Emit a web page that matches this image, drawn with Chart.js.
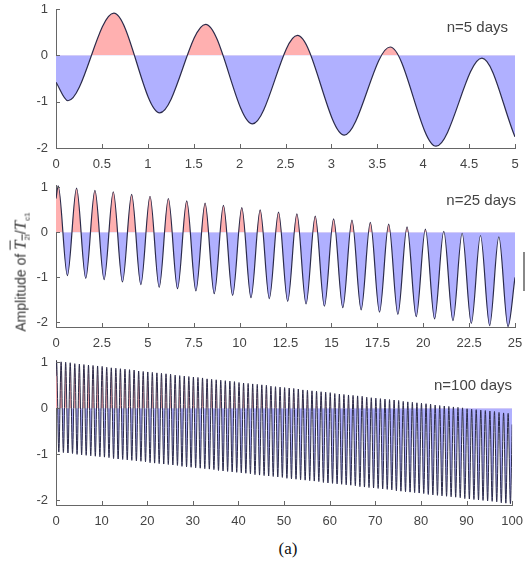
<!DOCTYPE html>
<html>
<head>
<meta charset="utf-8">
<script src="https://cdn.jsdelivr.net/npm/chart.js@4"></script>
<style>
  body { margin: 0; background: #fff; }
  #wrap { position: relative; width: 532px; height: 563px; font-family: "Liberation Sans", Arial, sans-serif; }
  canvas { position: absolute; left: 0; }
  .note { position: absolute; font-size: 15px; color: #444; white-space: nowrap; }
  #ylabel { position: absolute; left: 21px; top: 272px; transform: translate(-50%, -50%) rotate(-90deg);
            font-size: 14px; color: #333; white-space: nowrap; }
  #ylabel i { font-family: "Liberation Serif", serif; font-size: 17px; }
  #ylabel sub { font-size: 8px; }
  #caption { position: absolute; left: 288px; top: 549px; transform: translate(-50%, -50%);
             font-family: "Liberation Serif", serif; font-size: 17px; color: #111; }
  #stray { position: absolute; left: 523px; top: 252px; width: 2px; height: 39px; background: #888; }
</style>
</head>
<body>
<div id="wrap">
  <canvas id="c5" width="532" height="175" style="top:0"></canvas>
  <canvas id="c25" width="532" height="184" style="top:170px"></canvas>
  <canvas id="c100" width="532" height="187" style="top:345px"></canvas>
  <div class="note" style="right:24px;top:18px">n=5 days</div>
  <div class="note" style="right:16px;top:191px">n=25 days</div>
  <div class="note" style="right:20px;top:376px">n=100 days</div>
  <div id="ylabel">Amplitude of <span style="text-decoration:overline"><i>T</i><sub>2i</sub></span>/<i>T</i><sub>c1</sub></div>
  <div id="caption">(a)</div>
  <div id="stray"></div>
</div>
<script>
// n=5 days: turning points of the curve (day, amplitude)
const days5 = [0, 0.13, 0.63, 1.13, 1.63, 2.14, 2.63, 3.14, 3.64, 4.14, 4.64, 5];
const amp5 = [-0.58, -0.98, 0.91, -1.24, 0.67, -1.48, 0.43, -1.72, 0.18, -1.96, -0.06, -1.76];

// n=25 days: daily peaks and troughs
const start25 = 0.75, end25 = -1.0;
const peaks25 = [1.03, 0.98, 0.93, 0.90, 0.84, 0.80, 0.75, 0.70, 0.65, 0.60, 0.55, 0.50, 0.45,
  0.41, 0.36, 0.30, 0.27, 0.22, 0.18, 0.12, 0.07, 0.02, -0.02, -0.07, -0.10];
const troughs25 = [-0.96, -1.02, -1.05, -1.10, -1.16, -1.22, -1.25, -1.30, -1.36, -1.40, -1.45, -1.47, -1.53,
  -1.59, -1.64, -1.67, -1.72, -1.77, -1.82, -1.87, -1.92, -1.96, -2.02, -2.07, -2.09];

// n=100 days: daily peaks and troughs
const start100 = 0.7, end100 = -0.35;
const peaks100 = [1.02, 1.01, 1.00, 0.99, 0.97, 0.96, 0.95, 0.94, 0.93, 0.92,
  0.91, 0.89, 0.88, 0.87, 0.86, 0.85, 0.84, 0.83, 0.81, 0.80,
  0.79, 0.78, 0.77, 0.76, 0.75, 0.74, 0.72, 0.71, 0.70, 0.69,
  0.68, 0.67, 0.66, 0.64, 0.63, 0.62, 0.61, 0.60, 0.59, 0.58,
  0.56, 0.55, 0.54, 0.53, 0.52, 0.51, 0.50, 0.48, 0.47, 0.46,
  0.45, 0.44, 0.43, 0.42, 0.40, 0.39, 0.38, 0.37, 0.36, 0.35,
  0.34, 0.32, 0.31, 0.30, 0.29, 0.28, 0.27, 0.26, 0.24, 0.23,
  0.22, 0.21, 0.20, 0.19, 0.18, 0.17, 0.15, 0.14, 0.13, 0.12,
  0.11, 0.10, 0.09, 0.07, 0.06, 0.05, 0.04, 0.03, 0.02, 0.01,
  -0.01, -0.02, -0.03, -0.04, -0.05, -0.06, -0.07, -0.09, -0.10, -0.11];
const troughs100 = [-0.95, -0.96, -0.97, -0.98, -1.00, -1.01, -1.02, -1.03, -1.04, -1.05,
  -1.06, -1.07, -1.09, -1.10, -1.11, -1.12, -1.13, -1.14, -1.15, -1.16,
  -1.18, -1.19, -1.20, -1.21, -1.22, -1.23, -1.24, -1.26, -1.27, -1.28,
  -1.29, -1.30, -1.31, -1.32, -1.33, -1.35, -1.36, -1.37, -1.38, -1.39,
  -1.40, -1.41, -1.42, -1.44, -1.45, -1.46, -1.47, -1.48, -1.49, -1.50,
  -1.52, -1.53, -1.54, -1.55, -1.56, -1.57, -1.58, -1.59, -1.61, -1.62,
  -1.63, -1.64, -1.65, -1.66, -1.67, -1.68, -1.70, -1.71, -1.72, -1.73,
  -1.74, -1.75, -1.76, -1.77, -1.79, -1.80, -1.81, -1.82, -1.83, -1.84,
  -1.85, -1.87, -1.88, -1.89, -1.90, -1.91, -1.92, -1.93, -1.94, -1.96,
  -1.97, -1.98, -1.99, -2.00, -2.01, -2.02, -2.03, -2.05, -2.06, -2.07];

// where in each day the peak and the trough fall
const peakPhase = 0.12, troughPhase = 0.62;

const xTicks5 = [0, 0.5, 1, 1.5, 2, 2.5, 3, 3.5, 4, 4.5, 5];
const xTicks25 = [0, 2.5, 5, 7.5, 10, 12.5, 15, 17.5, 20, 22.5, 25];
const xTicks100 = [0, 10, 20, 30, 40, 50, 60, 70, 80, 90, 100];
const yTicks = [-2, -1, 0, 1];

function daily(start, peaks, troughs, end, span) {
  const pts = [{ x: 0, y: start }];
  peaks.forEach((p, k) => {
    pts.push({ x: k + peakPhase, y: p });
    pts.push({ x: k + troughPhase, y: troughs[k] });
  });
  pts.push({ x: span, y: end });
  return pts;
}

const inwardTicks = {
  id: 'inwardTicks',
  afterDraw(chart) {
    const { ctx, chartArea: a, scales: { x, y } } = chart;
    ctx.save();
    ctx.strokeStyle = '#666';
    ctx.lineWidth = 1;
    ctx.beginPath();
    x.ticks.forEach(t => {
      const px = Math.round(x.getPixelForValue(t.value)) + 0.5;
      ctx.moveTo(px, a.bottom);
      ctx.lineTo(px, a.bottom - 4);
    });
    y.ticks.forEach(t => {
      const py = Math.round(y.getPixelForValue(t.value)) + 0.5;
      ctx.moveTo(a.left, py);
      ctx.lineTo(a.left + 4, py);
    });
    ctx.stroke();
    ctx.restore();
  }
};

const tickFont = { family: '"Liberation Sans", Arial, sans-serif', size: 13 };

function panel(id, points, xTicks, xMax, yMin, yMax, padTop, lineWidth) {
  new Chart(document.getElementById(id), {
    type: 'line',
    data: {
      datasets: [{
        data: points,
        borderColor: '#2b2b4a',
        borderWidth: lineWidth,
        pointRadius: 0,
        cubicInterpolationMode: 'monotone',
        fill: { target: { value: 0 }, above: '#ffb0b0', below: '#b0b0ff' }
      }]
    },
    options: {
      responsive: false,
      animation: false,
      devicePixelRatio: 1,
      layout: { padding: { top: padTop, right: 17, left: 0, bottom: 0 } },
      plugins: { legend: { display: false }, tooltip: { enabled: false } },
      scales: {
        x: {
          type: 'linear', min: 0, max: xMax, z: 1,
          grid: { display: false, drawTicks: false },
          border: { display: true, color: '#666' },
          ticks: { color: '#444', font: tickFont, padding: 9, autoSkip: false, maxRotation: 0,
                   callback: v => String(v) },
          afterBuildTicks: s => { s.ticks = xTicks.map(v => ({ value: v })); },
          afterFit: s => { s.height = 27; }
        },
        y: {
          min: yMin, max: yMax, z: 1,
          grid: { display: false, drawTicks: true, tickLength: 8 },
          border: { display: true, color: '#666' },
          ticks: { color: '#444', font: tickFont, padding: 0, callback: v => String(v) },
          afterBuildTicks: s => { s.ticks = yTicks.map(v => ({ value: v })); },
          afterFit: s => { s.width = 56; }
        }
      }
    },
    plugins: [inwardTicks]
  });
}

panel('c5', days5.map((d, i) => ({ x: d, y: amp5[i] })), xTicks5, 5, -2, 1, 9, 1.2);
panel('c25', daily(start25, peaks25, troughs25, end25, 25), xTicks25, 25, -2.1, 1.05, 15, 1.2);
panel('c100', daily(start100, peaks100, troughs100, end100, 100), xTicks100, 100, -2.1, 1.05, 15, 1);
</script>
</body>
</html>
